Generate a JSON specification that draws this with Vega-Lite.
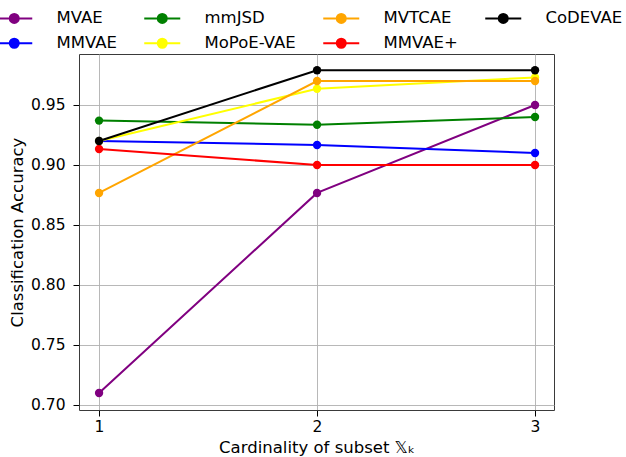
{
  "$schema": "https://vega.github.io/schema/vega-lite/v6.json",
  "width": 475,
  "height": 356,
  "autosize": {"type": "none"},
  "padding": {"left": 79, "top": 54, "right": 72, "bottom": 47},
  "background": "white",
  "config": {
    "font": "DejaVu Sans",
    "view": {"stroke": "#3a3a3a", "strokeWidth": 1},
    "axis": {
      "labelFont": "DejaVu Sans", "labelFontSize": 15.5, "labelColor": "black",
      "titleFont": "DejaVu Sans", "titleFontSize": 16.5, "titleFontWeight": "normal", "titleColor": "black",
      "gridColor": "#b0b0b0", "gridWidth": 1, "gridOpacity": 0.9,
      "tickColor": "black", "tickSize": 6, "domain": false
    },
    "legend": {
      "labelFont": "DejaVu Sans", "labelFontSize": 16.5, "labelColor": "black"
    }
  },
  "data": {"values": [
    {"k": 1, "acc": 0.710, "model": "MVAE"},
    {"k": 2, "acc": 0.8767, "model": "MVAE"},
    {"k": 3, "acc": 0.950, "model": "MVAE"},
    {"k": 1, "acc": 0.920, "model": "MMVAE"},
    {"k": 2, "acc": 0.9167, "model": "MMVAE"},
    {"k": 3, "acc": 0.910, "model": "MMVAE"},
    {"k": 1, "acc": 0.937, "model": "mmJSD"},
    {"k": 2, "acc": 0.9335, "model": "mmJSD"},
    {"k": 3, "acc": 0.940, "model": "mmJSD"},
    {"k": 1, "acc": 0.920, "model": "MoPoE-VAE"},
    {"k": 2, "acc": 0.9635, "model": "MoPoE-VAE"},
    {"k": 3, "acc": 0.973, "model": "MoPoE-VAE"},
    {"k": 1, "acc": 0.8767, "model": "MVTCAE"},
    {"k": 2, "acc": 0.970, "model": "MVTCAE"},
    {"k": 3, "acc": 0.970, "model": "MVTCAE"},
    {"k": 1, "acc": 0.9133, "model": "MMVAE+"},
    {"k": 2, "acc": 0.900, "model": "MMVAE+"},
    {"k": 3, "acc": 0.900, "model": "MMVAE+"},
    {"k": 1, "acc": 0.920, "model": "CoDEVAE"},
    {"k": 2, "acc": 0.979, "model": "CoDEVAE"},
    {"k": 3, "acc": 0.979, "model": "CoDEVAE"}
  ]},
  "encoding": {
    "x": {
      "field": "k", "type": "quantitative",
      "scale": {"domain": [0.908, 3.087], "nice": false, "zero": false},
      "axis": {"values": [1, 2, 3], "format": "d", "title": "Cardinality of subset 𝕏ₖ", "titlePadding": 5, "labelPadding": 3}
    },
    "y": {
      "field": "acc", "type": "quantitative",
      "scale": {"domain": [0.6958, 0.9925], "nice": false, "zero": false},
      "axis": {"values": [0.70, 0.75, 0.80, 0.85, 0.90, 0.95], "format": ".2f", "title": "Classification Accuracy", "titlePadding": 5, "labelPadding": 8}
    },
    "color": {
      "field": "model", "type": "nominal",
      "scale": {
        "domain": ["MVAE", "MMVAE", "mmJSD", "MoPoE-VAE", "MVTCAE", "MMVAE+", "CoDEVAE"],
        "range": ["#800080", "#0000ff", "#008000", "#ffff00", "#ffa500", "#ff0000", "#000000"]
      },
      "legend": {
        "orient": "none", "legendX": -73, "legendY": -44,
        "columns": 4, "columnPadding": 23, "rowPadding": 7,
        "title": null,
        "symbolType": "M-3.6,0L3.6,0M-0.9,0A0.9,0.9,0,1,0,0.9,0A0.9,0.9,0,1,0,-0.9,0Z",
        "symbolSize": 100, "symbolStrokeWidth": 2, "labelOffset": 34,
        "encode": {
          "symbols": {"update": {
            "stroke": {"scale": "color", "field": "value"},
            "fill": {"scale": "color", "field": "value"},
            "fillOpacity": {"value": 1},
            "opacity": {"value": 1}
          }}
        }
      }
    },
    "order": {"field": "k"}
  },
  "layer": [
    {"mark": {"type": "line", "strokeWidth": 2, "point": {"filled": true, "size": 70, "opacity": 1}}}
  ]
}
